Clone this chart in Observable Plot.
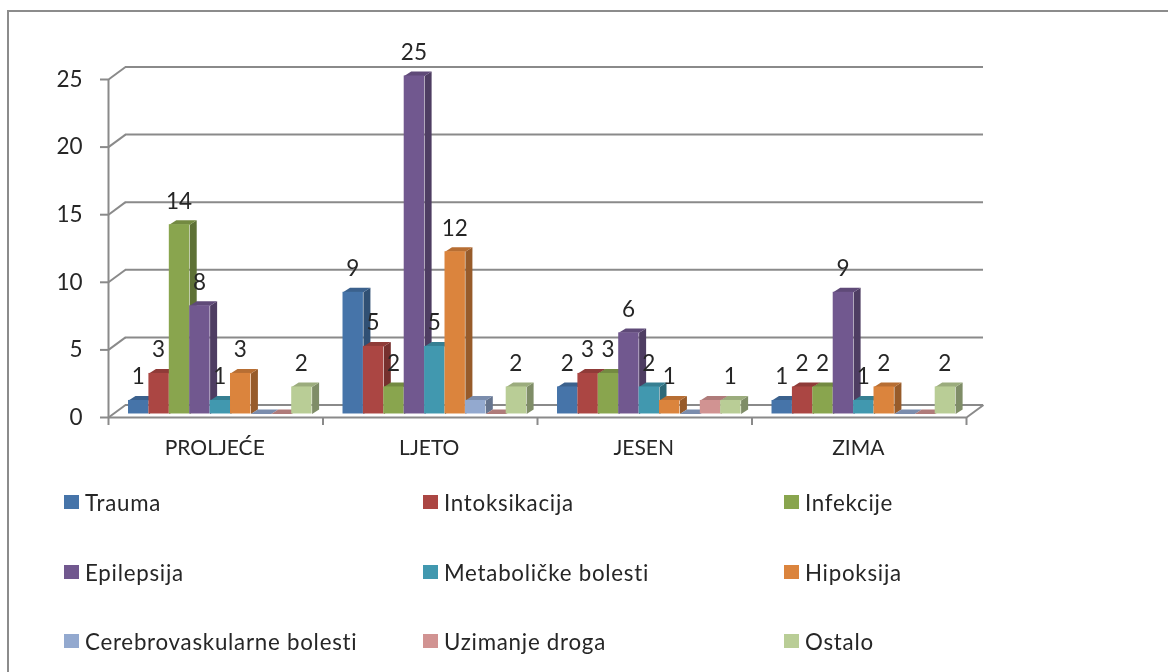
<!DOCTYPE html>
<html><head><meta charset="utf-8">
<script src="https://cdn.jsdelivr.net/npm/d3@7"></script>
<script src="https://cdn.jsdelivr.net/npm/@observablehq/plot@0.6"></script>
<style>
html,body{margin:0;padding:0;background:#fff;width:1168px;height:672px;overflow:hidden;font-family:Lato,sans-serif;}
#frame{position:absolute;left:7px;top:10px;width:1300px;height:800px;border:2.5px solid #8c8c8c;box-sizing:border-box;filter:blur(.4px);}
#chart{position:absolute;left:0;top:0;filter:blur(.5px);}
#legend{position:absolute;left:0;top:0;filter:blur(.4px);}
.item{position:absolute;display:flex;align-items:center;height:20px;font-size:22.3px;letter-spacing:.75px;color:#262626;white-space:nowrap;}
.sw{width:15px;height:14px;margin-right:6px;flex:none;}
</style></head><body>
<div id="frame"></div><div id="chart"></div><div id="legend"></div>
<script>
const seasons = ["PROLJEĆE","LJETO","JESEN","ZIMA"];
const seriesNames = ["Trauma","Intoksikacija","Infekcije","Epilepsija","Metaboličke bolesti","Hipoksija","Cerebrovaskularne bolesti","Uzimanje droga","Ostalo"];
const colors = ["#4674a9","#ab4643","#89a54e","#71588f","#4198af","#db843d","#93a9cf","#d19392","#b9cd96"];
const trauma = [1,9,2,1];
const intoksikacija = [3,5,3,2];
const infekcije = [14,2,3,2];
const epilepsija = [8,25,6,9];
const metabolicke = [1,5,2,1];
const hipoksija = [3,12,1,2];
const cerebrovaskularne = [0,1,0,0];
const droge = [0,0,1,0];
const ostalo = [2,2,1,2];
const allSeries = [trauma,intoksikacija,infekcije,epilepsija,metabolicke,hipoksija,cerebrovaskularne,droge,ostalo];
const unlabelled = ["Cerebrovaskularne bolesti","Uzimanje droga"];
const yTicks = [0,5,10,15,20,25];

// 3D geometry in data units
const floorX = 17/214.4, floorY = 0.926;   // back wall offset
const start = 0.0933, barW = 0.0951;        // first bar, bar width
const base = 0.26;                          // bars stand slightly behind the front edge
const depX = 7/214.4, depY = 0.33;          // bar depth

const bars = [];
seasons.forEach((s,i)=>seriesNames.forEach((n,j)=>{
  const x1=i+start+j*barW;
  bars.push({season:s,name:n,value:allSeries[j][i],x1,x2:x1+barW,y1:base,y2:base+allSeries[j][i],color:colors[j]});
}));
const shade=(c,k)=>d3.color(c).darker(k).formatHex();
const faces = bars.flatMap((b,k)=>[
  {id:k+"s",fill:shade(b.color,1.05),pts:[[b.x2,b.y1],[b.x2+depX,b.y1+depY],[b.x2+depX,b.y2+depY],[b.x2,b.y2]]},
  {id:k+"t",fill:shade(b.color,.5),pts:[[b.x1,b.y2],[b.x1+depX,b.y2+depY],[b.x2+depX,b.y2+depY],[b.x2,b.y2]]}
]).flatMap(f=>f.pts.map(p=>({id:f.id,fill:f.fill,x:p[0],y:p[1]})));
const gridC="#8a8a8a", txt="#262626";

const plot = Plot.plot({
  width:1168,height:480,marginLeft:108,marginRight:202,marginTop:79,marginBottom:63,
  style:{fontFamily:"Lato, sans-serif",background:"transparent",overflow:"visible"},
  x:{domain:[0,4]},y:{domain:[0,25]},color:{type:"identity"},
  marks:[
    Plot.ruleY(yTicks,{y:d=>d+floorY,x1:floorX,x2:4+floorX,stroke:gridC,strokeWidth:2}),
    Plot.link(yTicks,{x1:0,y1:d=>d,x2:floorX,y2:d=>d+floorY,stroke:gridC,strokeWidth:2}),
    Plot.link([4],{x1:d=>d,y1:0,x2:d=>d+floorX,y2:floorY,stroke:gridC,strokeWidth:2}),
    Plot.line(faces,{x:"x",y:"y",z:"id",fill:"fill",stroke:null}),
    Plot.rect(bars,{x1:"x1",x2:"x2",y1:"y1",y2:"y2",fill:"color"}),
    Plot.ruleY([0],{x1:0,x2:4,stroke:gridC,strokeWidth:2}),
    Plot.ruleX([0],{y1:0,y2:25,stroke:gridC,strokeWidth:2}),
    Plot.axisY({ticks:yTicks,tickSize:8,tickPadding:18,stroke:gridC,strokeWidth:2,fontSize:22.5,fill:txt,label:null,tickFormat:d=>d}),
    Plot.axisX({ticks:[0,1,2,3,4],tickSize:8,stroke:gridC,strokeWidth:2,label:null,tickFormat:()=>""}),
    Plot.axisX({ticks:[.5,1.5,2.5,3.5],tickSize:0,tickPadding:23,dx:-1,fontSize:21,fill:txt,style:{letterSpacing:".3px"},label:null,tickFormat:d=>seasons[Math.floor(d)]}),
    Plot.text(bars.filter(b=>b.value>0&&!unlabelled.includes(b.name)),{x:b=>(b.x1+b.x2)/2,y:"y2",text:"value",lineAnchor:"bottom",dy:-16,dx:-.5,fontSize:22.5,fill:txt})
  ]
});
document.getElementById("chart").appendChild(plot);

const legendX=[64,423,784], legendY=[492,562,631];
const legend=document.getElementById("legend");
seriesNames.forEach((n,k)=>{
  const d=document.createElement("div");d.className="item";
  d.style.left=legendX[k%3]+"px";d.style.top=legendY[Math.floor(k/3)]+"px";
  const s=document.createElement("span");s.className="sw";s.style.background=colors[k];
  const t=document.createElement("span");t.textContent=n;
  d.append(s,t);legend.appendChild(d);
});
</script>
</body></html>
